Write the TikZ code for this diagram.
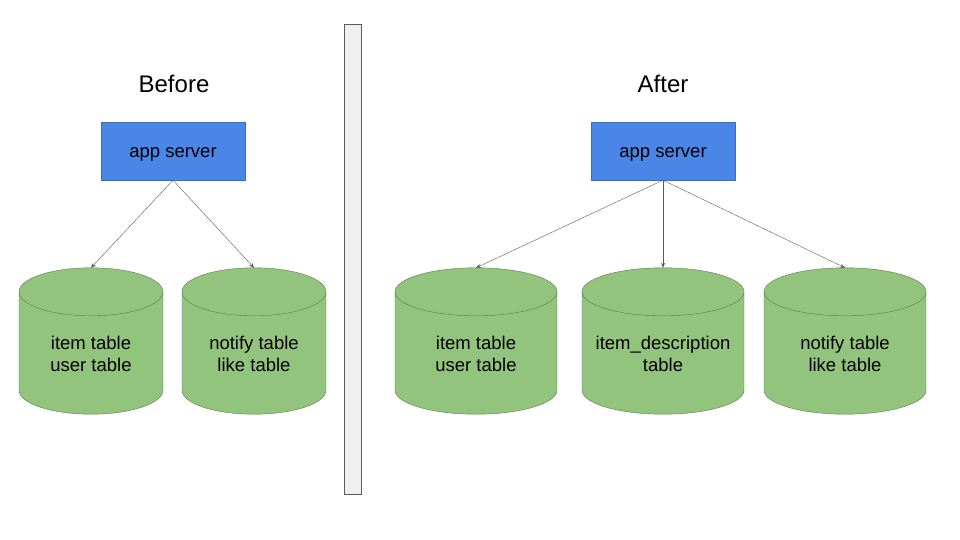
\documentclass[tikz,border=0pt]{standalone}
\usepackage{fontspec}
\setmainfont{Liberation Sans}
\usetikzlibrary{arrows.meta,backgrounds}
\definecolor{srvblue}{HTML}{4A86E8}
\definecolor{srvedge}{HTML}{3D6DB8}
\definecolor{dbgreen}{HTML}{93C47D}
\definecolor{dbedge}{HTML}{5B7A4E}
\definecolor{wire}{HTML}{595959}
\definecolor{barfill}{HTML}{EFEFEF}
\tikzset{
  server/.style={draw=srvedge, fill=srvblue, minimum width=144pt, minimum height=58pt,
    inner sep=0pt, text height=16.7pt, text depth=3.9pt, font=\fontsize{18.5}{21.5}\selectfont},
  db/.style={minimum height=146pt, inner sep=0pt},
  dbtext/.style={align=center, font=\fontsize{18.5}{21.8}\selectfont},
  title/.style={font=\fontsize{24}{28}\selectfont},
  link/.style={draw=wire, -{Stealth[length=5pt,width=4pt]}},
}
% cylinder behind a db node: #1 node name, #2 half width (pt)
\newcommand\dbcyl[2]{%
  \begin{pgfonlayer}{background}
  \draw[dbedge, fill=dbgreen] ([xshift=-#2pt,yshift=-24pt]#1.north)
    -- ([xshift=-#2pt,yshift=24pt]#1.south)
    arc[start angle=180, end angle=360, x radius=#2pt, y radius=24pt]
    -- ([xshift=#2pt,yshift=-24pt]#1.north)
    arc[start angle=0, end angle=180, x radius=#2pt, y radius=24pt]
    -- cycle;
  \draw[dbedge] ([xshift=-#2pt,yshift=-24pt]#1.north)
    arc[start angle=180, end angle=360, x radius=#2pt, y radius=24pt];
  \end{pgfonlayer}}
\begin{document}
\begin{tikzpicture}[x=1pt,y=-1pt]
  \useasboundingbox (0,0) rectangle (960,540);
  %% BEFORE
  \node[title] (before) at (174,84) {Before};
  \node[server] (srvA) at (173,151) {app server};
  \node[db, minimum width=144pt] (itemA) at (91,341) {};
  \node[dbtext] (itemAtxt) at (91,354) {item table\\user table};
  \dbcyl{itemA}{72}
  \node[db, minimum width=144pt] (notifyA) at (254,341) {};
  \node[dbtext] (notifyAtxt) at (254,354) {notify table\\like table};
  \dbcyl{notifyA}{72}
  % arrows
  \draw[link] (srvA.south) -- (itemA.north);
  \draw[link] (srvA.south) -- (notifyA.north);

  %% DIVIDER
  \draw[draw=wire, fill=barfill] (344,24) rectangle (361,494);

  %% AFTER
  \node[title] (after) at (663,84) {After};
  \node[server] (srvB) at (663,151) {app server};
  \node[db, minimum width=162pt] (itemB) at (476,341) {};
  \node[dbtext] (itemBtxt) at (476,354) {item table\\user table};
  \dbcyl{itemB}{81}
  \node[db, minimum width=162pt] (descB) at (663,341) {};
  \node[dbtext] (descBtxt) at (663,354) {item\_description\\table};
  \dbcyl{descB}{81}
  \node[db, minimum width=162pt] (notifyB) at (845,341) {};
  \node[dbtext] (notifyBtxt) at (845,354) {notify table\\like table};
  \dbcyl{notifyB}{81}
  % arrows
  \draw[link] (srvB.south) -- (itemB.north);
  \draw[link] (srvB.south) -- (descB.north);
  \draw[link] (srvB.south) -- (notifyB.north);
\end{tikzpicture}
\end{document}
